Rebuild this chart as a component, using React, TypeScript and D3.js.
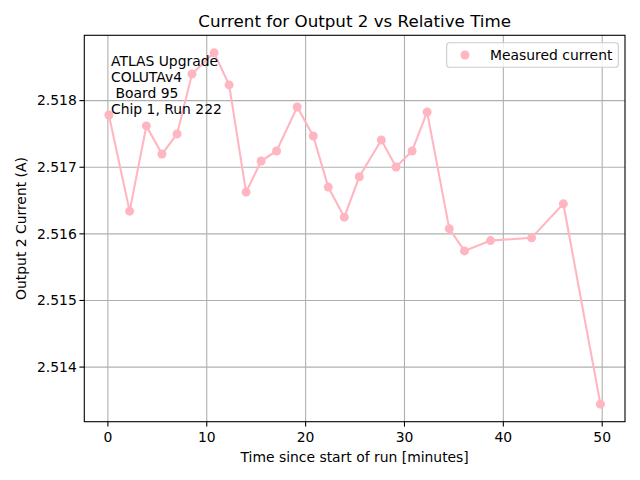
import * as d3 from 'd3'

// Measured time points (minutes) and output 2 current (A)
const timeMinutes = [
  0.1, 2.2, 3.89, 5.47, 7.0, 8.51, 10.74, 12.26, 13.98, 15.5, 17.06,
  19.15, 20.77, 22.29, 23.91, 25.43, 27.66, 29.15, 30.77, 32.29, 34.53,
  36.07, 38.7, 42.86, 46.07, 49.82
]
const currentAmps = [
  2.517785, 2.516341, 2.51762, 2.517198, 2.5175, 2.5184, 2.518717, 2.518236,
  2.516627, 2.517093, 2.517244, 2.517905, 2.517469, 2.516702, 2.516251,
  2.516857, 2.517409, 2.517003, 2.517244, 2.51783, 2.516078, 2.515744,
  2.515899, 2.51594, 2.516451, 2.513444
]
const xTicks = [0, 10, 20, 30, 40, 50]
const yTicks = [2.514, 2.515, 2.516, 2.517, 2.518]
const infoLines = ['ATLAS Upgrade', 'COLUTAv4', '\u00a0Board 95', 'Chip 1, Run 222']

const W = 640
const H = 480
const plot = { left: 84.3, right: 625, top: 35.3, bottom: 421.7 }
const pink = '#ffb6c1'
const font = '"DejaVu Sans", sans-serif'

// matplotlib-style 5% margins
const pad = (lo: number, hi: number) => {
  const m = (hi - lo) * 0.05
  return [lo - m, hi + m]
}

export default function App() {
  const points = timeMinutes.map((t, i) => ({ t, v: currentAmps[i] }))
  const x = d3
    .scaleLinear()
    .domain(pad(d3.min(timeMinutes)!, d3.max(timeMinutes)!))
    .range([plot.left, plot.right])
  const y = d3
    .scaleLinear()
    .domain(pad(d3.min(currentAmps)!, d3.max(currentAmps)!))
    .range([plot.bottom, plot.top])

  const line = d3
    .line<{ t: number; v: number }>()
    .x(d => x(d.t))
    .y(d => y(d.v))

  const cx = (plot.left + plot.right) / 2
  const cy = (plot.top + plot.bottom) / 2

  return (
    <svg
      width={W}
      height={H}
      style={{ position: 'absolute', left: 0, top: 0, background: '#fff' }}
      fontFamily={font}
    >
      <rect width={W} height={H} fill="#fff" />
      <defs>
        <clipPath id="plot-clip">
          <rect
            x={plot.left}
            y={plot.top}
            width={plot.right - plot.left}
            height={plot.bottom - plot.top}
          />
        </clipPath>
      </defs>

      {/* grid */}
      <g stroke="#b0b0b0" strokeWidth={1.1}>
        {xTicks.map(t => (
          <line key={'gx' + t} x1={x(t)} x2={x(t)} y1={plot.top} y2={plot.bottom} />
        ))}
        {yTicks.map(t => (
          <line key={'gy' + t} x1={plot.left} x2={plot.right} y1={y(t)} y2={y(t)} />
        ))}
      </g>

      {/* data */}
      <g clipPath="url(#plot-clip)">
        <path d={line(points) ?? ''} fill="none" stroke={pink} strokeWidth={2.08} />
        {points.map((d, i) => (
          <circle key={i} cx={x(d.t)} cy={y(d.v)} r={4.5} fill={pink} />
        ))}
      </g>

      {/* info text */}
      <g fontSize={13.9} fill="#000">
        {infoLines.map((s, i) => (
          <text key={s} x={111} y={66 + i * 16} style={{ whiteSpace: 'pre' }}>
            {s}
          </text>
        ))}
      </g>

      {/* spines */}
      <rect
        x={plot.left}
        y={plot.top}
        width={plot.right - plot.left}
        height={plot.bottom - plot.top}
        fill="none"
        stroke="#000"
        strokeWidth={1.1}
      />

      {/* x axis */}
      <g fontSize={13.9} textAnchor="middle">
        {xTicks.map(t => (
          <g key={'xt' + t}>
            <line x1={x(t)} x2={x(t)} y1={plot.bottom} y2={plot.bottom + 4.9} stroke="#000" strokeWidth={1.1} />
            <text x={x(t)} y={plot.bottom + 20.5}>{t}</text>
          </g>
        ))}
        <text x={cx} y={461.5}>Time since start of run [minutes]</text>
      </g>

      {/* y axis */}
      <g fontSize={13.9} textAnchor="end">
        {yTicks.map(t => (
          <g key={'yt' + t}>
            <line x1={plot.left - 4.9} x2={plot.left} y1={y(t)} y2={y(t)} stroke="#000" strokeWidth={1.1} />
            <text x={plot.left - 7.5} y={y(t)} dy="0.35em">{d3.format('.3f')(t)}</text>
          </g>
        ))}
      </g>
      <text
        transform={`translate(26,${cy}) rotate(-90)`}
        textAnchor="middle"
        fontSize={13.9}
      >
        Output 2 Current (A)
      </text>

      {/* title */}
      <text x={cx} y={26.5} textAnchor="middle" fontSize={16.7}>
        Current for Output 2 vs Relative Time
      </text>

      {/* legend */}
      <g>
        <rect
          x={446.7}
          y={42.7}
          width={171.6}
          height={24.6}
          rx={2.8}
          fill="#fff"
          fillOpacity={0.8}
          stroke="#cccccc"
          strokeWidth={1.1}
        />
        <circle cx={465} cy={55} r={4.5} fill={pink} />
        <text x={490} y={55} dy="0.35em" fontSize={13.9}>
          Measured current
        </text>
      </g>
    </svg>
  )
}
